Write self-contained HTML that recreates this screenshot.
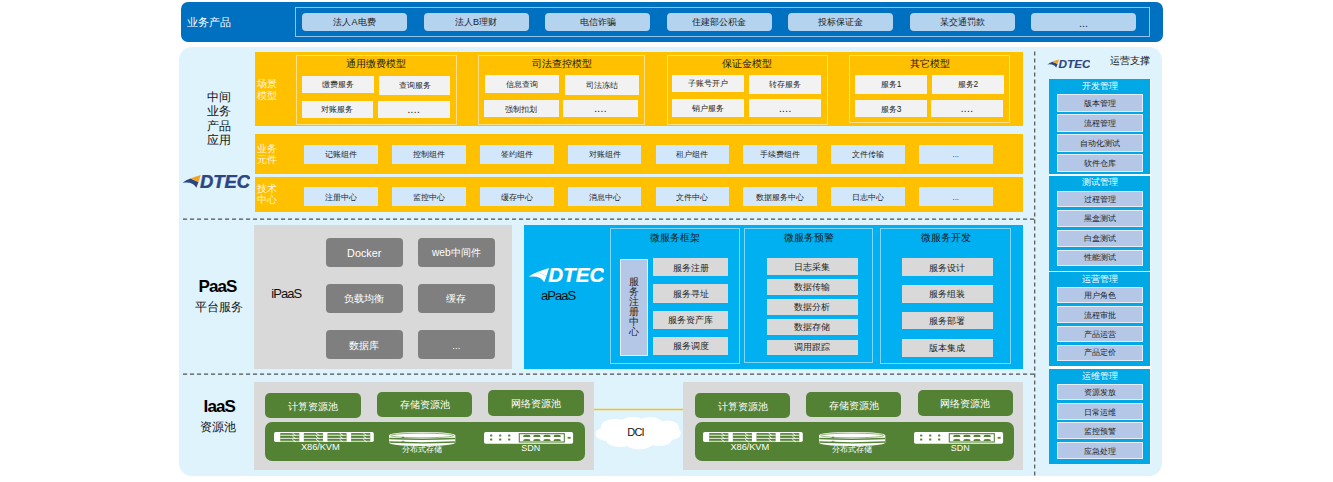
<!DOCTYPE html>
<html><head><meta charset="utf-8"><style>
*{margin:0;padding:0}
html,body{width:1333px;height:482px;background:#fff;overflow:hidden;position:relative;font-family:"Liberation Sans",sans-serif;}
div{position:absolute;white-space:nowrap;}
.t{line-height:1.2;}
</style></head><body>
<div style="left:181px;top:2px;width:982px;height:40px;background:#0070c0;border-radius:7px;"></div>
<div class="t" style="left:186.8px;top:16.3px;color:#fff;font-size:11.2px;">业务产品</div>
<div style="left:295px;top:6.8px;width:855px;height:30.5px;border:1.6px solid #94c2ea;box-sizing:border-box;"></div>
<div style="left:302.0px;top:13px;width:105.0px;height:18.2px;background:#b4d3ee;border-radius:4px;"><span style="position:absolute;left:0;right:0;top:0.2px;text-align:center;line-height:18.2px;font-size:9.1px;color:#1a1a1a;">法人A电费</span></div>
<div style="left:423.5px;top:13px;width:105.0px;height:18.2px;background:#b4d3ee;border-radius:4px;"><span style="position:absolute;left:0;right:0;top:0.2px;text-align:center;line-height:18.2px;font-size:9.1px;color:#1a1a1a;">法人B理财</span></div>
<div style="left:545.0px;top:13px;width:105.0px;height:18.2px;background:#b4d3ee;border-radius:4px;"><span style="position:absolute;left:0;right:0;top:0.2px;text-align:center;line-height:18.2px;font-size:9.1px;color:#1a1a1a;">电信诈骗</span></div>
<div style="left:666.5px;top:13px;width:105.0px;height:18.2px;background:#b4d3ee;border-radius:4px;"><span style="position:absolute;left:0;right:0;top:0.2px;text-align:center;line-height:18.2px;font-size:9.1px;color:#1a1a1a;">住建部公积金</span></div>
<div style="left:788.0px;top:13px;width:105.0px;height:18.2px;background:#b4d3ee;border-radius:4px;"><span style="position:absolute;left:0;right:0;top:0.2px;text-align:center;line-height:18.2px;font-size:9.1px;color:#1a1a1a;">投标保证金</span></div>
<div style="left:909.5px;top:13px;width:105.0px;height:18.2px;background:#b4d3ee;border-radius:4px;"><span style="position:absolute;left:0;right:0;top:0.2px;text-align:center;line-height:18.2px;font-size:9.1px;color:#1a1a1a;">某交通罚款</span></div>
<div style="left:1031.0px;top:13px;width:105.0px;height:18.2px;background:#b4d3ee;border-radius:4px;"><span style="position:absolute;left:0;right:0;top:1.0px;text-align:center;line-height:18.2px;font-size:10.5px;color:#1a1a1a;">...</span></div>
<div style="left:179px;top:47px;width:983px;height:429px;background:#dff3fd;border-radius:13px;"></div>
<div class="t" style="left:207px;top:90.0px;font-size:12px;color:#111;line-height:14.3px;">中间</div>
<div class="t" style="left:207px;top:104.3px;font-size:12px;color:#111;line-height:14.3px;">业务</div>
<div class="t" style="left:207px;top:118.6px;font-size:12px;color:#111;line-height:14.3px;">产品</div>
<div class="t" style="left:207px;top:132.9px;font-size:12px;color:#111;line-height:14.3px;">应用</div>
<div style="left:254.6px;top:52.4px;width:768.4px;height:74.1px;background:#ffc000;"></div>
<div class="t" style="left:257px;top:78px;font-size:10px;color:#fff8e4;line-height:11.6px;">场景<br>模型</div>
<div style="left:295.6px;top:55.3px;width:161.4px;height:69.9px;border:1px solid #ffe089;box-sizing:border-box;"></div>
<div style="left:295.6px;top:57.8px;width:161.4px;height:12.5px;background:transparent;"><span style="position:absolute;left:0;right:0;top:0.4px;text-align:center;line-height:12.5px;font-size:10px;color:#1a1a1a;">通用缴费模型</span></div>
<div style="left:302.3px;top:75.5px;width:71.7px;height:17.5px;background:#f2f2f2;"><span style="position:absolute;left:0;right:0;top:0.8px;text-align:center;line-height:17.5px;font-size:8.4px;color:#222;">缴费服务</span></div>
<div style="left:379.3px;top:75.5px;width:71.0px;height:19.5px;background:#f2f2f2;"><span style="position:absolute;left:0;right:0;top:0.8px;text-align:center;line-height:19.5px;font-size:8.4px;color:#222;">查询服务</span></div>
<div style="left:301.6px;top:100.6px;width:71.7px;height:17.1px;background:#f2f2f2;"><span style="position:absolute;left:0;right:0;top:0.8px;text-align:center;line-height:17.1px;font-size:8.4px;color:#222;">对账服务</span></div>
<div style="left:378px;top:100.6px;width:71.5px;height:17.1px;background:#f2f2f2;letter-spacing:0.4px;"><span style="position:absolute;left:0;right:0;top:0.2px;text-align:center;line-height:17.1px;font-size:10px;color:#111;">....</span></div>
<div style="left:478.3px;top:55.3px;width:166.8px;height:69.9px;border:1px solid #ffe089;box-sizing:border-box;"></div>
<div style="left:478.3px;top:57.8px;width:166.8px;height:12.5px;background:transparent;"><span style="position:absolute;left:0;right:0;top:0.4px;text-align:center;line-height:12.5px;font-size:10px;color:#1a1a1a;">司法查控模型</span></div>
<div style="left:484.9px;top:75px;width:74.1px;height:17.5px;background:#f2f2f2;"><span style="position:absolute;left:0;right:0;top:0.8px;text-align:center;line-height:17.5px;font-size:8.4px;color:#222;">信息查询</span></div>
<div style="left:564.6px;top:75px;width:74.1px;height:19.7px;background:#f2f2f2;"><span style="position:absolute;left:0;right:0;top:0.8px;text-align:center;line-height:19.7px;font-size:8.4px;color:#222;">司法冻结</span></div>
<div style="left:484px;top:100px;width:74.7px;height:17.4px;background:#f2f2f2;"><span style="position:absolute;left:0;right:0;top:0.8px;text-align:center;line-height:17.4px;font-size:8.4px;color:#222;">强制扣划</span></div>
<div style="left:563.2px;top:100px;width:74.6px;height:17.4px;background:#f2f2f2;letter-spacing:0.4px;"><span style="position:absolute;left:0;right:0;top:0.2px;text-align:center;line-height:17.4px;font-size:10px;color:#111;">....</span></div>
<div style="left:666.6px;top:55.3px;width:161.6px;height:69.9px;border:1px solid #ffe089;box-sizing:border-box;"></div>
<div style="left:666.6px;top:57.8px;width:161.6px;height:12.5px;background:transparent;"><span style="position:absolute;left:0;right:0;top:0.4px;text-align:center;line-height:12.5px;font-size:10px;color:#1a1a1a;">保证金模型</span></div>
<div style="left:672.3px;top:74.5px;width:71.8px;height:17.5px;background:#f2f2f2;"><span style="position:absolute;left:0;right:0;top:0.8px;text-align:center;line-height:17.5px;font-size:8.4px;color:#222;">子账号开户</span></div>
<div style="left:749.4px;top:74.5px;width:71.8px;height:19.7px;background:#f2f2f2;"><span style="position:absolute;left:0;right:0;top:0.8px;text-align:center;line-height:19.7px;font-size:8.4px;color:#222;">转存服务</span></div>
<div style="left:672px;top:99.4px;width:72px;height:17.5px;background:#f2f2f2;"><span style="position:absolute;left:0;right:0;top:0.8px;text-align:center;line-height:17.5px;font-size:8.4px;color:#222;">销户服务</span></div>
<div style="left:749.4px;top:99.4px;width:71.8px;height:17.5px;background:#f2f2f2;letter-spacing:0.4px;"><span style="position:absolute;left:0;right:0;top:0.2px;text-align:center;line-height:17.5px;font-size:10px;color:#111;">....</span></div>
<div style="left:849.2px;top:55.3px;width:161.2px;height:68.2px;border:1px solid #ffe089;box-sizing:border-box;"></div>
<div style="left:849.2px;top:57.8px;width:161.2px;height:12.5px;background:transparent;"><span style="position:absolute;left:0;right:0;top:0.4px;text-align:center;line-height:12.5px;font-size:10px;color:#1a1a1a;">其它模型</span></div>
<div style="left:855.3px;top:74.5px;width:71.5px;height:19.7px;background:#f2f2f2;"><span style="position:absolute;left:0;right:0;top:0.8px;text-align:center;line-height:19.7px;font-size:8.4px;color:#222;">服务1</span></div>
<div style="left:932px;top:74.5px;width:71.8px;height:19.5px;background:#f2f2f2;"><span style="position:absolute;left:0;right:0;top:0.8px;text-align:center;line-height:19.5px;font-size:8.4px;color:#222;">服务2</span></div>
<div style="left:855.3px;top:99.8px;width:71.5px;height:17.1px;background:#f2f2f2;"><span style="position:absolute;left:0;right:0;top:0.8px;text-align:center;line-height:17.1px;font-size:8.4px;color:#222;">服务3</span></div>
<div style="left:931px;top:99.8px;width:72px;height:17.1px;background:#f2f2f2;letter-spacing:0.4px;"><span style="position:absolute;left:0;right:0;top:0.2px;text-align:center;line-height:17.1px;font-size:10px;color:#111;">....</span></div>
<div style="left:254.6px;top:134px;width:768.4px;height:39.8px;background:#ffc000;"></div>
<div style="left:254.6px;top:177.3px;width:768.4px;height:34.7px;background:#ffc000;"></div>
<div class="t" style="left:257px;top:142.6px;font-size:10px;color:#fff8e4;line-height:11.6px;">业务<br>元件</div>
<div class="t" style="left:257px;top:182.8px;font-size:10px;color:#fff8e4;line-height:11.6px;">技术<br>中心</div>
<div style="left:304.4px;top:145.3px;width:73.5px;height:18.3px;background:#d3e7fa;"><span style="position:absolute;left:0;right:0;top:1.2px;text-align:center;line-height:18.3px;font-size:8px;color:#1e1e1e;">记账组件</span></div>
<div style="left:304.4px;top:187.1px;width:73.5px;height:19.4px;background:#d3e7fa;"><span style="position:absolute;left:0;right:0;top:1.2px;text-align:center;line-height:19.4px;font-size:8px;color:#1e1e1e;">注册中心</span></div>
<div style="left:392.2px;top:145.3px;width:73.5px;height:18.3px;background:#d3e7fa;"><span style="position:absolute;left:0;right:0;top:1.2px;text-align:center;line-height:18.3px;font-size:8px;color:#1e1e1e;">控制组件</span></div>
<div style="left:392.2px;top:187.1px;width:73.5px;height:19.4px;background:#d3e7fa;"><span style="position:absolute;left:0;right:0;top:1.2px;text-align:center;line-height:19.4px;font-size:8px;color:#1e1e1e;">监控中心</span></div>
<div style="left:480.0px;top:145.3px;width:73.5px;height:18.3px;background:#d3e7fa;"><span style="position:absolute;left:0;right:0;top:1.2px;text-align:center;line-height:18.3px;font-size:8px;color:#1e1e1e;">签约组件</span></div>
<div style="left:480.0px;top:187.1px;width:73.5px;height:19.4px;background:#d3e7fa;"><span style="position:absolute;left:0;right:0;top:1.2px;text-align:center;line-height:19.4px;font-size:8px;color:#1e1e1e;">缓存中心</span></div>
<div style="left:567.8px;top:145.3px;width:73.5px;height:18.3px;background:#d3e7fa;"><span style="position:absolute;left:0;right:0;top:1.2px;text-align:center;line-height:18.3px;font-size:8px;color:#1e1e1e;">对账组件</span></div>
<div style="left:567.8px;top:187.1px;width:73.5px;height:19.4px;background:#d3e7fa;"><span style="position:absolute;left:0;right:0;top:1.2px;text-align:center;line-height:19.4px;font-size:8px;color:#1e1e1e;">消息中心</span></div>
<div style="left:655.6px;top:145.3px;width:73.5px;height:18.3px;background:#d3e7fa;"><span style="position:absolute;left:0;right:0;top:1.2px;text-align:center;line-height:18.3px;font-size:8px;color:#1e1e1e;">租户组件</span></div>
<div style="left:655.6px;top:187.1px;width:73.5px;height:19.4px;background:#d3e7fa;"><span style="position:absolute;left:0;right:0;top:1.2px;text-align:center;line-height:19.4px;font-size:8px;color:#1e1e1e;">文件中心</span></div>
<div style="left:743.4px;top:145.3px;width:73.5px;height:18.3px;background:#d3e7fa;"><span style="position:absolute;left:0;right:0;top:1.2px;text-align:center;line-height:18.3px;font-size:8px;color:#1e1e1e;">手续费组件</span></div>
<div style="left:743.4px;top:187.1px;width:73.5px;height:19.4px;background:#d3e7fa;"><span style="position:absolute;left:0;right:0;top:1.2px;text-align:center;line-height:19.4px;font-size:8px;color:#1e1e1e;">数据服务中心</span></div>
<div style="left:831.2px;top:145.3px;width:73.5px;height:18.3px;background:#d3e7fa;"><span style="position:absolute;left:0;right:0;top:1.2px;text-align:center;line-height:18.3px;font-size:8px;color:#1e1e1e;">文件传输</span></div>
<div style="left:831.2px;top:187.1px;width:73.5px;height:19.4px;background:#d3e7fa;"><span style="position:absolute;left:0;right:0;top:1.2px;text-align:center;line-height:19.4px;font-size:8px;color:#1e1e1e;">日志中心</span></div>
<div style="left:919.0px;top:145.3px;width:73.5px;height:18.3px;background:#d3e7fa;"><span style="position:absolute;left:0;right:0;top:1.2px;text-align:center;line-height:18.3px;font-size:8px;color:#1e1e1e;">...</span></div>
<div style="left:919.0px;top:187.1px;width:73.5px;height:19.4px;background:#d3e7fa;"><span style="position:absolute;left:0;right:0;top:1.2px;text-align:center;line-height:19.4px;font-size:8px;color:#1e1e1e;">...</span></div>
<svg style="position:absolute;left:182px;top:175px" width="68" height="13" viewBox="0 0 68 13">
<path d="M0.6 7.8 Q4 5 8.4 3.5 L16.5 7.1 L14.4 12.7 Q12 8.6 7.5 7.7 Q3.5 7.2 0.6 7.8Z" fill="#2c4683"/>
<path d="M8.4 3.5 Q13 1.6 18.7 0 L16.5 7.1Z" fill="#f4a11d"/>
<text x="18" y="12.7" font-family="Liberation Sans" font-weight="bold" font-style="italic" font-size="17.6" fill="#2c4683" stroke="#2c4683" stroke-width="0.45" textLength="50" lengthAdjust="spacingAndGlyphs">DTEC</text>
</svg>
<svg style="position:absolute;left:0;top:0" width="1333" height="482">
<line x1="183" y1="219.2" x2="1035" y2="219.2" stroke="#505050" stroke-width="1.2" stroke-dasharray="4.1 2.9"/>
<line x1="183" y1="374.2" x2="1035" y2="374.2" stroke="#505050" stroke-width="1.2" stroke-dasharray="4.1 2.9"/>
<line x1="1034.7" y1="51.6" x2="1034.7" y2="478" stroke="#505050" stroke-width="1.2" stroke-dasharray="3.9 3.1"/>
<line x1="593.5" y1="409.5" x2="683" y2="409.5" stroke="#ffc000" stroke-width="1.3"/>
</svg>
<div class="t" style="left:198.5px;top:277.3px;font-size:17px;font-weight:bold;color:#000;letter-spacing:-0.9px;">PaaS</div>
<div class="t" style="left:195.2px;top:300px;font-size:12px;color:#111;">平台服务</div>
<div style="left:254.3px;top:224.7px;width:258px;height:144.6px;background:#d9d9d9;"></div>
<div class="t" style="left:271.2px;top:286.3px;font-size:13px;color:#111;letter-spacing:-0.9px;">iPaaS</div>
<div style="left:325.7px;top:238px;width:77.0px;height:28.5px;background:#7f7f7f;border-radius:4px;"><span style="position:absolute;left:0;right:0;top:0.9px;text-align:center;line-height:28.5px;font-size:10.8px;color:#fff;">Docker</span></div>
<div style="left:417.5px;top:238px;width:77.7px;height:28.5px;background:#7f7f7f;border-radius:4px;"><span style="position:absolute;left:0;right:0;top:0.9px;text-align:center;line-height:28.5px;font-size:10.2px;color:#fff;">web中间件</span></div>
<div style="left:325.7px;top:284.3px;width:77.0px;height:28.4px;background:#7f7f7f;border-radius:4px;"><span style="position:absolute;left:0;right:0;top:0.9px;text-align:center;line-height:28.4px;font-size:9.7px;color:#fff;">负载均衡</span></div>
<div style="left:417.5px;top:284.3px;width:77.7px;height:28.4px;background:#7f7f7f;border-radius:4px;"><span style="position:absolute;left:0;right:0;top:0.9px;text-align:center;line-height:28.4px;font-size:9.7px;color:#fff;">缓存</span></div>
<div style="left:325.7px;top:330px;width:77.0px;height:29px;background:#7f7f7f;border-radius:4px;"><span style="position:absolute;left:0;right:0;top:0.9px;text-align:center;line-height:29px;font-size:9.7px;color:#fff;">数据库</span></div>
<div style="left:417.5px;top:330px;width:77.7px;height:29px;background:#7f7f7f;border-radius:4px;"><span style="position:absolute;left:0;right:0;top:0.9px;text-align:center;line-height:29px;font-size:9.7px;color:#fff;">...</span></div>
<div style="left:523.6px;top:224.6px;width:499.5px;height:144.9px;background:#00b0f0;"></div>
<svg style="position:absolute;left:527.6px;top:267.5px" width="76.4" height="14.6" viewBox="0 0 68 13">
<path d="M0.6 7.8 Q4 5 8.4 3.5 L16.5 7.1 L14.4 12.7 Q12 8.6 7.5 7.7 Q3.5 7.2 0.6 7.8Z" fill="#fff"/>
<path d="M8.4 3.5 Q13 1.6 18.7 0 L16.5 7.1Z" fill="#fff"/>
<text x="18" y="12.7" font-family="Liberation Sans" font-weight="bold" font-style="italic" font-size="17.6" fill="#fff" stroke="#fff" stroke-width="0.25" textLength="50" lengthAdjust="spacingAndGlyphs">DTEC</text>
</svg>
<div class="t" style="left:541px;top:288.2px;font-size:13px;color:#111;letter-spacing:-0.95px;">aPaaS</div>
<div style="left:610.3px;top:227.6px;width:129.6px;height:136.9px;border:1px solid #7fd6f6;box-sizing:border-box;"></div>
<div style="left:610.3px;top:231px;width:129.6px;height:14px;background:transparent;"><span style="position:absolute;left:0;right:0;top:0px;text-align:center;line-height:14px;font-size:10.3px;color:#1a1a1a;">微服务框架</span></div>
<div style="left:744.3px;top:228.3px;width:129.1px;height:135.1px;border:1px solid #7fd6f6;box-sizing:border-box;"></div>
<div style="left:744.3px;top:231px;width:129.1px;height:14px;background:transparent;"><span style="position:absolute;left:0;right:0;top:0px;text-align:center;line-height:14px;font-size:10.3px;color:#1a1a1a;">微服务预警</span></div>
<div style="left:880px;top:228.3px;width:131.1px;height:136.1px;border:1px solid #7fd6f6;box-sizing:border-box;"></div>
<div style="left:880px;top:231px;width:131.1px;height:14px;background:transparent;"><span style="position:absolute;left:0;right:0;top:0px;text-align:center;line-height:14px;font-size:10.3px;color:#1a1a1a;">微服务开发</span></div>
<div style="left:619.5px;top:258.7px;width:28.6px;height:97.0px;background:#b4c7e7;border:1.4px solid #e8eef8;box-sizing:border-box;"></div>
<div class="t" style="left:628.8px;top:276.6px;font-size:10.4px;color:#222;line-height:10.05px;">服<br>务<br>注<br>册<br>中<br>心</div>
<div style="left:653.2px;top:258.2px;width:74.8px;height:18.3px;background:#d9d9d9;"><span style="position:absolute;left:0;right:0;top:0.8px;text-align:center;line-height:18.3px;font-size:9.2px;color:#222;">服务注册</span></div>
<div style="left:653.2px;top:284.1px;width:74.8px;height:18.9px;background:#d9d9d9;"><span style="position:absolute;left:0;right:0;top:0.8px;text-align:center;line-height:18.9px;font-size:9.2px;color:#222;">服务寻址</span></div>
<div style="left:653.2px;top:310.7px;width:74.8px;height:18.3px;background:#d9d9d9;"><span style="position:absolute;left:0;right:0;top:0.8px;text-align:center;line-height:18.3px;font-size:9.2px;color:#222;">服务资产库</span></div>
<div style="left:653.2px;top:336.6px;width:74.8px;height:18.9px;background:#d9d9d9;"><span style="position:absolute;left:0;right:0;top:0.8px;text-align:center;line-height:18.9px;font-size:9.2px;color:#222;">服务调度</span></div>
<div style="left:767.2px;top:258.1px;width:90.6px;height:16.6px;background:#d9d9d9;"><span style="position:absolute;left:0;right:0;top:0.8px;text-align:center;line-height:16.6px;font-size:9.2px;color:#222;">日志采集</span></div>
<div style="left:767.2px;top:278.7px;width:90.6px;height:16.0px;background:#d9d9d9;"><span style="position:absolute;left:0;right:0;top:0.8px;text-align:center;line-height:16.0px;font-size:9.2px;color:#222;">数据传输</span></div>
<div style="left:767.2px;top:299px;width:90.6px;height:15.6px;background:#d9d9d9;"><span style="position:absolute;left:0;right:0;top:0.8px;text-align:center;line-height:15.6px;font-size:9.2px;color:#222;">数据分析</span></div>
<div style="left:767.2px;top:319.2px;width:90.6px;height:15.9px;background:#d9d9d9;"><span style="position:absolute;left:0;right:0;top:0.8px;text-align:center;line-height:15.9px;font-size:9.2px;color:#222;">数据存储</span></div>
<div style="left:767.2px;top:339.5px;width:90.6px;height:15.9px;background:#d9d9d9;"><span style="position:absolute;left:0;right:0;top:0.8px;text-align:center;line-height:15.9px;font-size:9.2px;color:#222;">调用跟踪</span></div>
<div style="left:902px;top:258.1px;width:90.9px;height:18.3px;background:#d9d9d9;"><span style="position:absolute;left:0;right:0;top:0.8px;text-align:center;line-height:18.3px;font-size:9.2px;color:#222;">服务设计</span></div>
<div style="left:902px;top:284.7px;width:90.9px;height:18.3px;background:#d9d9d9;"><span style="position:absolute;left:0;right:0;top:0.8px;text-align:center;line-height:18.3px;font-size:9.2px;color:#222;">服务组装</span></div>
<div style="left:902px;top:311.9px;width:90.9px;height:17.6px;background:#d9d9d9;"><span style="position:absolute;left:0;right:0;top:0.8px;text-align:center;line-height:17.6px;font-size:9.2px;color:#222;">服务部署</span></div>
<div style="left:902px;top:338.5px;width:90.9px;height:18.2px;background:#d9d9d9;"><span style="position:absolute;left:0;right:0;top:0.8px;text-align:center;line-height:18.2px;font-size:9.2px;color:#222;">版本集成</span></div>
<div class="t" style="left:203.6px;top:396.7px;font-size:17px;font-weight:bold;color:#000;letter-spacing:-0.9px;">IaaS</div>
<div class="t" style="left:199.8px;top:420.3px;font-size:12px;color:#111;">资源池</div>
<div style="left:254.2px;top:381.6px;width:339.5px;height:88.2px;background:#d9d9d9;"></div>
<div style="left:682.9px;top:381.6px;width:339.9px;height:88.2px;background:#d9d9d9;"></div>
<div style="left:265px;top:393.1px;width:95.8px;height:25.1px;background:#548235;border-radius:5px;"><span style="position:absolute;left:0;right:0;top:0.5px;text-align:center;line-height:25.1px;font-size:9.8px;color:#fff;">计算资源池</span></div>
<div style="left:376.7px;top:392px;width:95.7px;height:24.5px;background:#548235;border-radius:5px;"><span style="position:absolute;left:0;right:0;top:0.5px;text-align:center;line-height:24.5px;font-size:9.8px;color:#fff;">存储资源池</span></div>
<div style="left:487.9px;top:390px;width:96.1px;height:25.5px;background:#548235;border-radius:5px;"><span style="position:absolute;left:0;right:0;top:0.5px;text-align:center;line-height:25.5px;font-size:9.8px;color:#fff;">网络资源池</span></div>
<div style="left:695.4px;top:393.2px;width:94.8px;height:25.1px;background:#548235;border-radius:5px;"><span style="position:absolute;left:0;right:0;top:0.5px;text-align:center;line-height:25.1px;font-size:9.8px;color:#fff;">计算资源池</span></div>
<div style="left:806.3px;top:392px;width:95.2px;height:25px;background:#548235;border-radius:5px;"><span style="position:absolute;left:0;right:0;top:0.5px;text-align:center;line-height:25px;font-size:9.8px;color:#fff;">存储资源池</span></div>
<div style="left:917.5px;top:390.4px;width:95.5px;height:25.4px;background:#548235;border-radius:5px;"><span style="position:absolute;left:0;right:0;top:0.5px;text-align:center;line-height:25.4px;font-size:9.8px;color:#fff;">网络资源池</span></div>
<div style="left:265px;top:422.1px;width:319.9px;height:39.2px;background:#548235;border-radius:7px;"></div>
<div style="left:694.5px;top:422.1px;width:319.5px;height:39.2px;background:#548235;border-radius:7px;"></div>
<svg style="position:absolute;left:273.9px;top:432px" width="100" height="11" viewBox="0 0 100 11"><rect x="0" y="0" width="99.8" height="10" rx="1.8" fill="#fff"/><rect x="6.2" y="1.1" width="19.1" height="8.3" fill="#548235"/><rect x="6.2" y="2.75" width="19.1" height="1.05" fill="#fff" opacity="0.85"/><rect x="6.2" y="5.85" width="19.1" height="1.05" fill="#fff" opacity="0.85"/><path d="M18.4 1.1 L21.8 3.7" stroke="#fff" stroke-width="0.9"/><path d="M18.4 4.2 L21.8 6.8" stroke="#fff" stroke-width="0.9"/><path d="M18.4 7.3 L21.8 9.9" stroke="#fff" stroke-width="0.9"/><rect x="6.2" y="8.6" width="19.1" height="0.8" fill="#fff" opacity="0.5"/><rect x="29.85" y="1.1" width="19.1" height="8.3" fill="#548235"/><rect x="29.85" y="2.75" width="19.1" height="1.05" fill="#fff" opacity="0.85"/><rect x="29.85" y="5.85" width="19.1" height="1.05" fill="#fff" opacity="0.85"/><path d="M42.05 1.1 L45.45 3.7" stroke="#fff" stroke-width="0.9"/><path d="M42.05 4.2 L45.45 6.8" stroke="#fff" stroke-width="0.9"/><path d="M42.05 7.3 L45.45 9.9" stroke="#fff" stroke-width="0.9"/><rect x="29.85" y="8.6" width="19.1" height="0.8" fill="#fff" opacity="0.5"/><rect x="53.5" y="1.1" width="19.1" height="8.3" fill="#548235"/><rect x="53.5" y="2.75" width="19.1" height="1.05" fill="#fff" opacity="0.85"/><rect x="53.5" y="5.85" width="19.1" height="1.05" fill="#fff" opacity="0.85"/><path d="M65.7 1.1 L69.1 3.7" stroke="#fff" stroke-width="0.9"/><path d="M65.7 4.2 L69.1 6.8" stroke="#fff" stroke-width="0.9"/><path d="M65.7 7.3 L69.1 9.9" stroke="#fff" stroke-width="0.9"/><rect x="53.5" y="8.6" width="19.1" height="0.8" fill="#fff" opacity="0.5"/><rect x="77.15" y="1.1" width="19.1" height="8.3" fill="#548235"/><rect x="77.15" y="2.75" width="19.1" height="1.05" fill="#fff" opacity="0.85"/><rect x="77.15" y="5.85" width="19.1" height="1.05" fill="#fff" opacity="0.85"/><path d="M89.35 1.1 L92.75 3.7" stroke="#fff" stroke-width="0.9"/><path d="M89.35 4.2 L92.75 6.8" stroke="#fff" stroke-width="0.9"/><path d="M89.35 7.3 L92.75 9.9" stroke="#fff" stroke-width="0.9"/><rect x="77.15" y="8.6" width="19.1" height="0.8" fill="#fff" opacity="0.5"/></svg>
<div class="t" style="left:301px;top:442px;font-size:9.3px;color:#fff;letter-spacing:-0.1px;">X86/KVM</div>
<svg style="position:absolute;left:389px;top:432px" width="67" height="15" viewBox="0 0 67 15"><path d="M0 3.6 Q0 0 33.2 0 Q66.3 0 66.3 3.6 V10.6 Q66.3 14 33.2 14 Q0 14 0 10.6Z" fill="#fff"/><ellipse cx="33.2" cy="3.5" rx="31.5" ry="2.3" fill="none" stroke="#548235" stroke-width="0.6"/><path d="M0.3 6.5 Q33.2 8.1 66 6.5" stroke="#548235" stroke-width="1.3" fill="none"/><path d="M0.3 10 Q33.2 11.6 66 10" stroke="#548235" stroke-width="1.3" fill="none"/><ellipse cx="14" cy="5.3" rx="1.6" ry="0.6" fill="#548235"/><ellipse cx="14" cy="9.4" rx="1.6" ry="0.6" fill="#548235" opacity="0.7"/></svg>
<div class="t" style="left:402.3px;top:444.6px;font-size:8px;color:#fff;">分布式存储</div>
<svg style="position:absolute;left:484.1px;top:432.1px" width="90" height="12" viewBox="0 0 90 12"><rect x="0" y="0" width="89.1" height="11.7" rx="1.8" fill="#fff"/><rect x="6.1" y="2.4" width="2.2" height="2" rx="0.5" fill="#548235"/><rect x="6.1" y="6.5" width="2.2" height="2" rx="0.5" fill="#548235"/><rect x="15.1" y="2.4" width="2.2" height="2" rx="0.5" fill="#548235"/><rect x="15.1" y="6.5" width="2.2" height="2" rx="0.5" fill="#548235"/><rect x="24.1" y="2.4" width="2.2" height="2" rx="0.5" fill="#548235"/><rect x="24.1" y="6.5" width="2.2" height="2" rx="0.5" fill="#548235"/><rect x="35.3" y="1.7" width="45" height="8.3" fill="none" stroke="#548235" stroke-width="1.1"/><path d="M39.3 5.0 V4.0 Q39.3 2.8 42.8 2.8 Q46.3 2.8 46.3 4.0 V5.0Z" fill="#548235"/><path d="M39.3 9.1 V8.1 Q39.3 6.9 42.8 6.9 Q46.3 6.9 46.3 8.1 V9.1Z" fill="#548235"/><path d="M49.4 5.0 V4.0 Q49.4 2.8 52.9 2.8 Q56.4 2.8 56.4 4.0 V5.0Z" fill="#548235"/><path d="M49.4 9.1 V8.1 Q49.4 6.9 52.9 6.9 Q56.4 6.9 56.4 8.1 V9.1Z" fill="#548235"/><path d="M59.5 5.0 V4.0 Q59.5 2.8 63 2.8 Q66.5 2.8 66.5 4.0 V5.0Z" fill="#548235"/><path d="M59.5 9.1 V8.1 Q59.5 6.9 63 6.9 Q66.5 6.9 66.5 8.1 V9.1Z" fill="#548235"/><path d="M69.7 5.0 V4.0 Q69.7 2.8 73.2 2.8 Q76.7 2.8 76.7 4.0 V5.0Z" fill="#548235"/><path d="M69.7 9.1 V8.1 Q69.7 6.9 73.2 6.9 Q76.7 6.9 76.7 8.1 V9.1Z" fill="#548235"/><rect x="83.6" y="4.9" width="3" height="1.8" fill="#548235"/></svg>
<div class="t" style="left:521.3px;top:443.3px;font-size:9px;color:#fff;">SDN</div>
<svg style="position:absolute;left:703.4px;top:432px" width="100" height="11" viewBox="0 0 100 11"><rect x="0" y="0" width="99.8" height="10" rx="1.8" fill="#fff"/><rect x="6.2" y="1.1" width="19.1" height="8.3" fill="#548235"/><rect x="6.2" y="2.75" width="19.1" height="1.05" fill="#fff" opacity="0.85"/><rect x="6.2" y="5.85" width="19.1" height="1.05" fill="#fff" opacity="0.85"/><path d="M18.4 1.1 L21.8 3.7" stroke="#fff" stroke-width="0.9"/><path d="M18.4 4.2 L21.8 6.8" stroke="#fff" stroke-width="0.9"/><path d="M18.4 7.3 L21.8 9.9" stroke="#fff" stroke-width="0.9"/><rect x="6.2" y="8.6" width="19.1" height="0.8" fill="#fff" opacity="0.5"/><rect x="29.85" y="1.1" width="19.1" height="8.3" fill="#548235"/><rect x="29.85" y="2.75" width="19.1" height="1.05" fill="#fff" opacity="0.85"/><rect x="29.85" y="5.85" width="19.1" height="1.05" fill="#fff" opacity="0.85"/><path d="M42.05 1.1 L45.45 3.7" stroke="#fff" stroke-width="0.9"/><path d="M42.05 4.2 L45.45 6.8" stroke="#fff" stroke-width="0.9"/><path d="M42.05 7.3 L45.45 9.9" stroke="#fff" stroke-width="0.9"/><rect x="29.85" y="8.6" width="19.1" height="0.8" fill="#fff" opacity="0.5"/><rect x="53.5" y="1.1" width="19.1" height="8.3" fill="#548235"/><rect x="53.5" y="2.75" width="19.1" height="1.05" fill="#fff" opacity="0.85"/><rect x="53.5" y="5.85" width="19.1" height="1.05" fill="#fff" opacity="0.85"/><path d="M65.7 1.1 L69.1 3.7" stroke="#fff" stroke-width="0.9"/><path d="M65.7 4.2 L69.1 6.8" stroke="#fff" stroke-width="0.9"/><path d="M65.7 7.3 L69.1 9.9" stroke="#fff" stroke-width="0.9"/><rect x="53.5" y="8.6" width="19.1" height="0.8" fill="#fff" opacity="0.5"/><rect x="77.15" y="1.1" width="19.1" height="8.3" fill="#548235"/><rect x="77.15" y="2.75" width="19.1" height="1.05" fill="#fff" opacity="0.85"/><rect x="77.15" y="5.85" width="19.1" height="1.05" fill="#fff" opacity="0.85"/><path d="M89.35 1.1 L92.75 3.7" stroke="#fff" stroke-width="0.9"/><path d="M89.35 4.2 L92.75 6.8" stroke="#fff" stroke-width="0.9"/><path d="M89.35 7.3 L92.75 9.9" stroke="#fff" stroke-width="0.9"/><rect x="77.15" y="8.6" width="19.1" height="0.8" fill="#fff" opacity="0.5"/></svg>
<div class="t" style="left:730.5px;top:442px;font-size:9.3px;color:#fff;letter-spacing:-0.1px;">X86/KVM</div>
<svg style="position:absolute;left:818.5px;top:432px" width="67" height="15" viewBox="0 0 67 15"><path d="M0 3.6 Q0 0 33.2 0 Q66.3 0 66.3 3.6 V10.6 Q66.3 14 33.2 14 Q0 14 0 10.6Z" fill="#fff"/><ellipse cx="33.2" cy="3.5" rx="31.5" ry="2.3" fill="none" stroke="#548235" stroke-width="0.6"/><path d="M0.3 6.5 Q33.2 8.1 66 6.5" stroke="#548235" stroke-width="1.3" fill="none"/><path d="M0.3 10 Q33.2 11.6 66 10" stroke="#548235" stroke-width="1.3" fill="none"/><ellipse cx="14" cy="5.3" rx="1.6" ry="0.6" fill="#548235"/><ellipse cx="14" cy="9.4" rx="1.6" ry="0.6" fill="#548235" opacity="0.7"/></svg>
<div class="t" style="left:831.8px;top:444.6px;font-size:8px;color:#fff;">分布式存储</div>
<svg style="position:absolute;left:913.6px;top:432.1px" width="90" height="12" viewBox="0 0 90 12"><rect x="0" y="0" width="89.1" height="11.7" rx="1.8" fill="#fff"/><rect x="6.1" y="2.4" width="2.2" height="2" rx="0.5" fill="#548235"/><rect x="6.1" y="6.5" width="2.2" height="2" rx="0.5" fill="#548235"/><rect x="15.1" y="2.4" width="2.2" height="2" rx="0.5" fill="#548235"/><rect x="15.1" y="6.5" width="2.2" height="2" rx="0.5" fill="#548235"/><rect x="24.1" y="2.4" width="2.2" height="2" rx="0.5" fill="#548235"/><rect x="24.1" y="6.5" width="2.2" height="2" rx="0.5" fill="#548235"/><rect x="35.3" y="1.7" width="45" height="8.3" fill="none" stroke="#548235" stroke-width="1.1"/><path d="M39.3 5.0 V4.0 Q39.3 2.8 42.8 2.8 Q46.3 2.8 46.3 4.0 V5.0Z" fill="#548235"/><path d="M39.3 9.1 V8.1 Q39.3 6.9 42.8 6.9 Q46.3 6.9 46.3 8.1 V9.1Z" fill="#548235"/><path d="M49.4 5.0 V4.0 Q49.4 2.8 52.9 2.8 Q56.4 2.8 56.4 4.0 V5.0Z" fill="#548235"/><path d="M49.4 9.1 V8.1 Q49.4 6.9 52.9 6.9 Q56.4 6.9 56.4 8.1 V9.1Z" fill="#548235"/><path d="M59.5 5.0 V4.0 Q59.5 2.8 63 2.8 Q66.5 2.8 66.5 4.0 V5.0Z" fill="#548235"/><path d="M59.5 9.1 V8.1 Q59.5 6.9 63 6.9 Q66.5 6.9 66.5 8.1 V9.1Z" fill="#548235"/><path d="M69.7 5.0 V4.0 Q69.7 2.8 73.2 2.8 Q76.7 2.8 76.7 4.0 V5.0Z" fill="#548235"/><path d="M69.7 9.1 V8.1 Q69.7 6.9 73.2 6.9 Q76.7 6.9 76.7 8.1 V9.1Z" fill="#548235"/><rect x="83.6" y="4.9" width="3" height="1.8" fill="#548235"/></svg>
<div class="t" style="left:950.8px;top:443.3px;font-size:9px;color:#fff;">SDN</div>
<svg style="position:absolute;left:595px;top:416px" width="87" height="34" viewBox="0 0 87 34">
<g fill="#fff">
<ellipse cx="20" cy="11" rx="14" ry="8"/>
<ellipse cx="38" cy="9" rx="14" ry="8"/>
<ellipse cx="55" cy="9" rx="13" ry="8"/>
<ellipse cx="72" cy="11.5" rx="12" ry="7"/>
<ellipse cx="13" cy="18" rx="12.5" ry="7"/>
<ellipse cx="75" cy="17" rx="11" ry="7"/>
<ellipse cx="25" cy="24" rx="14" ry="7"/>
<ellipse cx="44" cy="25" rx="15" ry="8.5"/>
<ellipse cx="64" cy="23" rx="13" ry="7"/>
<ellipse cx="43" cy="17" rx="36" ry="11"/>
</g></svg>
<div class="t" style="left:627.2px;top:426.2px;font-size:11px;color:#111;letter-spacing:-0.75px;">DCI</div>
<svg style="position:absolute;left:1046.8px;top:59px" width="43.6" height="9.3" viewBox="0 0 68 13">
<path d="M0.6 7.8 Q4 5 8.4 3.5 L16.5 7.1 L14.4 12.7 Q12 8.6 7.5 7.7 Q3.5 7.2 0.6 7.8Z" fill="#2c4683"/>
<path d="M8.4 3.5 Q13 1.6 18.7 0 L16.5 7.1Z" fill="#f4a11d"/>
<text x="18" y="12.7" font-family="Liberation Sans" font-weight="bold" font-style="italic" font-size="17.6" fill="#2c4683" stroke="#2c4683" stroke-width="0.2" textLength="50" lengthAdjust="spacingAndGlyphs">DTEC</text>
</svg>
<div class="t" style="left:1110px;top:55px;font-size:10.2px;color:#111;">运营支撑</div>
<div style="left:1049.1px;top:78.7px;width:101.9px;height:385.6px;background:rgba(255,255,255,0.85);"></div>
<div style="left:1049.1px;top:79.2px;width:100.9px;height:94.8px;background:#00a8e6;"></div>
<div style="left:1049.1px;top:79.7px;width:100.9px;height:12.0px;background:transparent;"><span style="position:absolute;left:0;right:0;top:0px;text-align:center;line-height:12.0px;font-size:9.3px;color:#fff;">开发管理</span></div>
<div style="left:1056.5px;top:94.4px;width:86.1px;height:17.4px;background:#b4c7e7;border:1px solid #e6ecf7;box-sizing:border-box;"><span style="position:absolute;left:0;right:0;top:-0.2px;text-align:center;line-height:17.4px;font-size:8.2px;color:#222;">版本管理</span></div>
<div style="left:1056.5px;top:114.1px;width:86.1px;height:17.5px;background:#b4c7e7;border:1px solid #e6ecf7;box-sizing:border-box;"><span style="position:absolute;left:0;right:0;top:-0.2px;text-align:center;line-height:17.5px;font-size:8.2px;color:#222;">流程管理</span></div>
<div style="left:1056.5px;top:133.9px;width:86.1px;height:18.0px;background:#b4c7e7;border:1px solid #e6ecf7;box-sizing:border-box;"><span style="position:absolute;left:0;right:0;top:-0.2px;text-align:center;line-height:18.0px;font-size:8.2px;color:#222;">自动化测试</span></div>
<div style="left:1056.5px;top:154.2px;width:86.1px;height:17.5px;background:#b4c7e7;border:1px solid #e6ecf7;box-sizing:border-box;"><span style="position:absolute;left:0;right:0;top:-0.2px;text-align:center;line-height:17.5px;font-size:8.2px;color:#222;">软件仓库</span></div>
<div style="left:1049.1px;top:175.6px;width:100.9px;height:95px;background:#00a8e6;"></div>
<div style="left:1049.1px;top:176.1px;width:100.9px;height:12.0px;background:transparent;"><span style="position:absolute;left:0;right:0;top:0px;text-align:center;line-height:12.0px;font-size:9.3px;color:#fff;">测试管理</span></div>
<div style="left:1056.5px;top:190.7px;width:86.1px;height:16.8px;background:#b4c7e7;border:1px solid #e6ecf7;box-sizing:border-box;"><span style="position:absolute;left:0;right:0;top:-0.2px;text-align:center;line-height:16.8px;font-size:8.2px;color:#222;">过程管理</span></div>
<div style="left:1056.5px;top:210px;width:86.1px;height:16.8px;background:#b4c7e7;border:1px solid #e6ecf7;box-sizing:border-box;"><span style="position:absolute;left:0;right:0;top:-0.2px;text-align:center;line-height:16.8px;font-size:8.2px;color:#222;">黑盒测试</span></div>
<div style="left:1056.5px;top:230px;width:86.1px;height:16.8px;background:#b4c7e7;border:1px solid #e6ecf7;box-sizing:border-box;"><span style="position:absolute;left:0;right:0;top:-0.2px;text-align:center;line-height:16.8px;font-size:8.2px;color:#222;">白盒测试</span></div>
<div style="left:1056.5px;top:249.6px;width:86.1px;height:16.8px;background:#b4c7e7;border:1px solid #e6ecf7;box-sizing:border-box;"><span style="position:absolute;left:0;right:0;top:-0.2px;text-align:center;line-height:16.8px;font-size:8.2px;color:#222;">性能测试</span></div>
<div style="left:1049.1px;top:272.2px;width:100.9px;height:94.2px;background:#00a8e6;"></div>
<div style="left:1049.1px;top:272.7px;width:100.9px;height:12.0px;background:transparent;"><span style="position:absolute;left:0;right:0;top:0px;text-align:center;line-height:12.0px;font-size:9.3px;color:#fff;">运营管理</span></div>
<div style="left:1056.5px;top:287.3px;width:86.1px;height:16.1px;background:#b4c7e7;border:1px solid #e6ecf7;box-sizing:border-box;"><span style="position:absolute;left:0;right:0;top:-0.2px;text-align:center;line-height:16.1px;font-size:8.2px;color:#222;">用户角色</span></div>
<div style="left:1056.5px;top:305.7px;width:86.1px;height:17.0px;background:#b4c7e7;border:1px solid #e6ecf7;box-sizing:border-box;"><span style="position:absolute;left:0;right:0;top:-0.2px;text-align:center;line-height:17.0px;font-size:8.2px;color:#222;">流程审批</span></div>
<div style="left:1056.5px;top:325.7px;width:86.1px;height:15.9px;background:#b4c7e7;border:1px solid #e6ecf7;box-sizing:border-box;"><span style="position:absolute;left:0;right:0;top:-0.2px;text-align:center;line-height:15.9px;font-size:8.2px;color:#222;">产品运营</span></div>
<div style="left:1056.5px;top:344.6px;width:86.1px;height:16.6px;background:#b4c7e7;border:1px solid #e6ecf7;box-sizing:border-box;"><span style="position:absolute;left:0;right:0;top:-0.2px;text-align:center;line-height:16.6px;font-size:8.2px;color:#222;">产品定价</span></div>
<div style="left:1049.1px;top:369.4px;width:100.9px;height:94.4px;background:#00a8e6;"></div>
<div style="left:1049.1px;top:369.9px;width:100.9px;height:12.0px;background:transparent;"><span style="position:absolute;left:0;right:0;top:0px;text-align:center;line-height:12.0px;font-size:9.3px;color:#fff;">运维管理</span></div>
<div style="left:1056.5px;top:383.9px;width:86.1px;height:16.2px;background:#b4c7e7;border:1px solid #e6ecf7;box-sizing:border-box;"><span style="position:absolute;left:0;right:0;top:-0.2px;text-align:center;line-height:16.2px;font-size:8.2px;color:#222;">资源发放</span></div>
<div style="left:1056.5px;top:402.8px;width:86.1px;height:17.3px;background:#b4c7e7;border:1px solid #e6ecf7;box-sizing:border-box;"><span style="position:absolute;left:0;right:0;top:-0.2px;text-align:center;line-height:17.3px;font-size:8.2px;color:#222;">日常运维</span></div>
<div style="left:1056.5px;top:422px;width:86.1px;height:17px;background:#b4c7e7;border:1px solid #e6ecf7;box-sizing:border-box;"><span style="position:absolute;left:0;right:0;top:-0.2px;text-align:center;line-height:17px;font-size:8.2px;color:#222;">监控预警</span></div>
<div style="left:1056.5px;top:441.7px;width:86.1px;height:17.0px;background:#b4c7e7;border:1px solid #e6ecf7;box-sizing:border-box;"><span style="position:absolute;left:0;right:0;top:-0.2px;text-align:center;line-height:17.0px;font-size:8.2px;color:#222;">应急处理</span></div>
</body></html>
